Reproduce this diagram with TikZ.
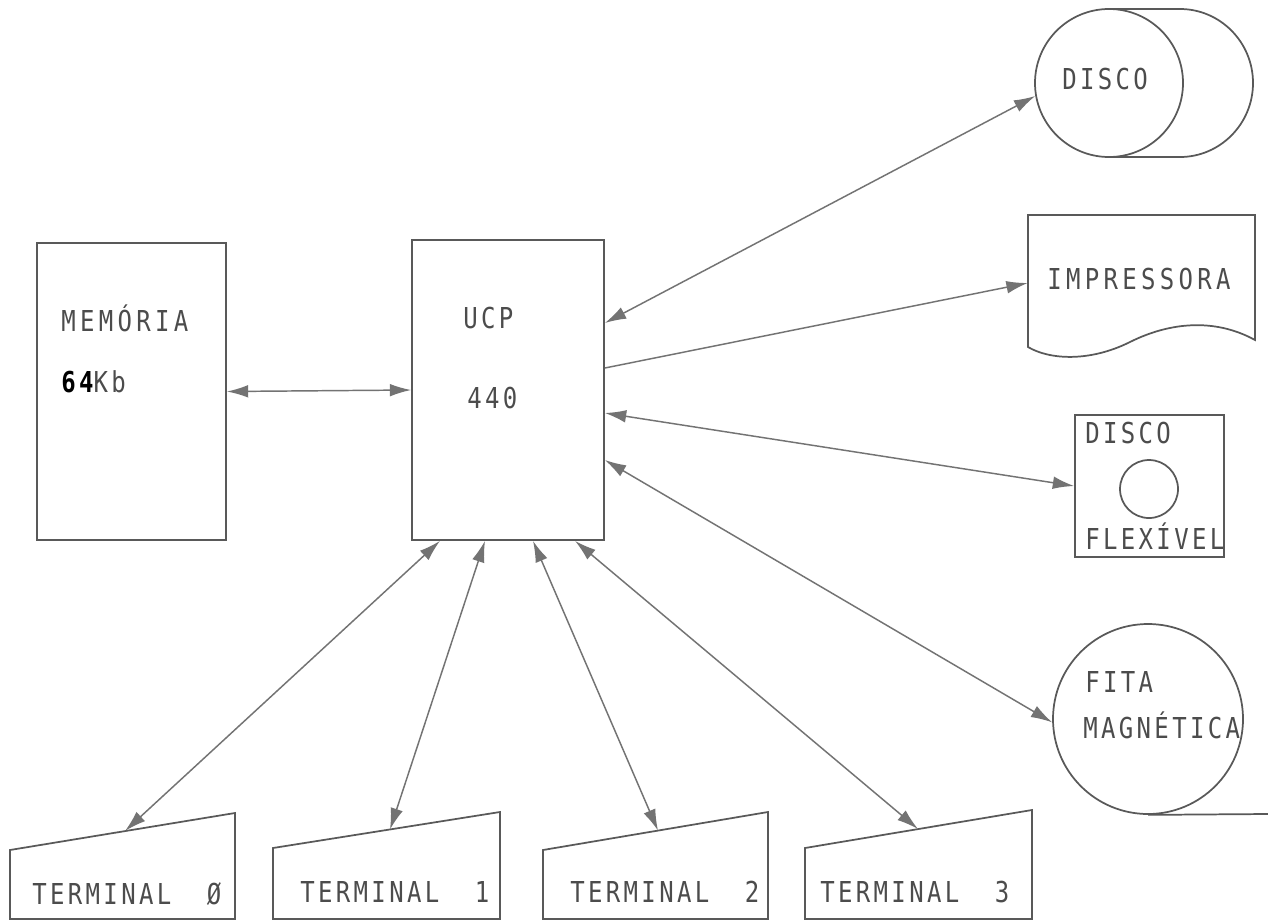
\documentclass[tikz,border=0pt]{standalone}
\usepackage{fontspec}
\usepackage{graphicx}
\usetikzlibrary{arrows.meta}
\newfontfamily\typ[LetterSpace=14]{DejaVu Sans Mono}
\newfontfamily\typw[LetterSpace=18]{DejaVu Sans Mono}
\newcommand\tx[1]{\scalebox{1}[1.2]{#1}}
\begin{document}
\begin{tikzpicture}[x=0.75pt,y=-0.75pt,
  ln/.style={draw=black!65, line width=1.3pt},
  box/.style={ln, rectangle, inner sep=0pt},
  ring/.style={ln, circle, inner sep=0pt},
  lbl/.style={inner sep=0pt, anchor=west, text=black!70, font=\typ\fontsize{18}{21}\selectfont},
  wlbl/.style={lbl, font=\typw\fontsize{18}{21}\selectfont},
  conn/.style={draw=black!55, line width=1.1pt, arrows={Latex[length=16pt,width=9.5pt]-Latex[length=16pt,width=9.5pt]}},
  connone/.style={draw=black!55, line width=1.1pt, arrows={-Latex[length=16pt,width=9.5pt]}}]
\path[use as bounding box, fill=white] (0,0) rectangle (1268,922);

% Memoria
\node[box, minimum width=141.75pt, minimum height=222.75pt] (mem) at (131.5,391.5) {};
\node[wlbl] (memA) at (61,318) {\tx{MEMÓRIA}};
\node[lbl] (memB) at (61,382) {\tx{{\bfseries\color{black}64}Kb}};

% UCP
\node[box, minimum width=144pt, minimum height=225pt] (ucp) at (508,390) {};
\node[lbl] (ucpA) at (463,318) {\tx{UCP}};
\node[lbl] (ucpB) at (467,398) {\tx{440}};

% Disco
\draw[ln] (1109,9) -- (1180,9) .. controls (1220,9) and (1253,42) .. (1253,83)
  .. controls (1253,124) and (1220,157) .. (1180,157) -- (1109,157);
\node[ring, minimum size=111pt] (disco) at (1109,83) {};
\node[lbl] (discoT) at (1062,79) {\tx{DISCO}};

% Impressora
\draw[ln] (1028,215) -- (1255,215) -- (1255,340)
  .. controls (1215,318) and (1170,322) .. (1130,342)
  .. controls (1090,362) and (1050,360) .. (1028,347) -- cycle;
\node[inner sep=0pt, minimum width=170.25pt, minimum height=7.5pt] (imp) at (1141.5,283) {};
\node[wlbl] (impT) at (1047,279) {\tx{IMPRESSORA}};

% Disco flexivel
\node[box, minimum width=111.75pt, minimum height=106.5pt] (flex) at (1149.5,486) {};
\node[ring, minimum size=43.5pt] (flexC) at (1149,489) {};
\node[lbl] (flexA) at (1085,433) {\tx{DISCO}};
\node[lbl] (flexB) at (1085,536) {\tx{FLEXÍVEL}};

% Fita magnetica
\node[ring, minimum size=142.5pt] (fita) at (1148,719) {};
\coordinate (fitaEnd) at (1268,814);
\draw[ln] (fita.south) -- (fitaEnd);
\node[lbl] (fitaA) at (1085,682) {\tx{FITA}};
\node[lbl] (fitaB) at (1083,725) {\tx{MAGNÉTICA}};

% Terminals
\draw[ln] (10,919) -- (10,850) -- (235,813) -- (235,919) -- cycle;
\draw[ln] (273,919) -- (273,848) -- (500,812) -- (500,919) -- cycle;
\draw[ln] (543,919) -- (543,850) -- (768,812) -- (768,919) -- cycle;
\draw[ln] (805,919) -- (805,848) -- (1032,810) -- (1032,919) -- cycle;
\coordinate (t0top) at (125,831);
\coordinate (t1top) at (390,829.5);
\coordinate (t2top) at (658,830.6);
\coordinate (t3top) at (918,829);
\node[lbl] (t0) at (32,894) {\tx{TERMINAL\ \ Ø}};
\node[lbl] (t1) at (300,892) {\tx{TERMINAL\ \ 1}};
\node[lbl] (t2) at (570,892) {\tx{TERMINAL\ \ 2}};
\node[lbl] (t3) at (820,892) {\tx{TERMINAL\ \ 3}};

% Connectors
\draw[conn] (mem.east) -- (ucp.west);
\draw[conn] (ucp.east |- 0,323) -- (disco.190);
\draw[connone] (ucp.east |- 0,368) -- (imp.west);
\draw[conn] (ucp.east |- 0,413) -- (flex.west);
\draw[conn] (ucp.east |- 0,460) -- (fita.182);
\draw[conn] (ucp.south -| 440,0) -- (t0top);
\draw[conn] (ucp.south -| 485,0) -- (t1top);
\draw[conn] (ucp.south -| 533,0) -- (t2top);
\draw[conn] (ucp.south -| 575,0) -- (t3top);
\end{tikzpicture}
\end{document}
